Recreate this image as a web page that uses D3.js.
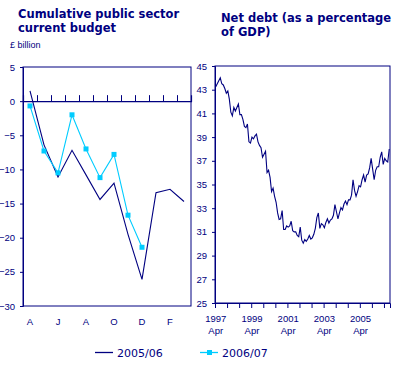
<!DOCTYPE html>
<html><head><meta charset="utf-8">
<script src="https://cdn.jsdelivr.net/npm/d3@7/dist/d3.min.js"></script>
<style>
body{margin:0;background:#fff;}
svg{display:block;}
</style></head>
<body><svg id="c" width="393" height="375"></svg>
<script>
// ---- data ----
const months = ["Apr","May","Jun","Jul","Aug","Sep","Oct","Nov","Dec","Jan","Feb","Mar"];
const monthLabels = ["A","J","A","O","D","F"];
const budget0506 = [1.5, -6.4, -11.1, -7.2, -10.8, -14.4, -12.0, -19.5, -26.1, -13.4, -12.9, -14.7];
const budget0607 = [-0.7, -7.3, -10.5, -2.0, -7.0, -11.2, -7.8, -16.7, -21.4];
const budgetTicks = [5, 0, -5, -10, -15, -20, -25, -30];

// Net debt, monthly Apr 1997 .. Nov 2006
const netDebt = [43.25,43.5,43.75,44.0,43.5,43.4,43.1,42.7,42.9,42.2,41.1,40.8,
  41.5,41.2,41.5,41.8,40.9,40.9,40.5,39.9,39.8,40.1,38.6,38.5,
  39.0,38.85,39.1,39.25,38.6,38.3,38.1,37.3,37.55,37.8,36.0,36.2,
  35.6,34.4,34.7,34.0,33.5,32.6,32.05,32.1,32.8,31.2,31.2,31.5,
  31.4,31.5,31.9,31.1,31.0,31.0,30.7,30.6,31.4,30.3,30.05,30.35,
  30.2,30.4,30.7,30.4,30.5,30.8,31.3,32.2,32.6,31.3,31.7,31.6,
  31.35,31.8,32.1,31.75,32.0,32.1,32.4,33.3,32.7,32.1,32.6,33.05,
  32.85,33.35,33.6,33.3,33.7,33.7,34.1,35.4,34.5,34.0,34.4,34.9,
  34.8,35.4,35.8,35.2,35.8,35.9,36.4,37.2,36.3,35.4,36.2,36.5,
  36.5,37.3,37.75,36.7,37.2,37.0,36.9,38.0];
const debtTicks = [25,27,29,31,33,35,37,39,41,43,45];
const yearLabels = ["1997","1999","2001","2003","2005"];
const yearLabelIdx = [0,24,48,72,96];
const legendNames = ["2005/06","2006/07"];

const NAVY = "#000080", CYAN = "#00ccff";
const svg = d3.select("#c");
const tickFont = "Liberation Sans, Arial, sans-serif";
const titleFont = "DejaVu Sans, Verdana, sans-serif";

// ---- titles ----
function title(x, y, lines){
  const t = svg.append("text").attr("x", x).attr("y", y)
    .attr("font-family", titleFont).attr("font-weight", "bold")
    .attr("font-size", 11.5).attr("fill", NAVY);
  lines.forEach((l,i)=>t.append("tspan").attr("x", x).attr("dy", i? 14 : 0).text(l));
}
title(18, 18, ["Cumulative public sector","current budget"]);
title(221, 22, ["Net debt (as a percentage","of GDP)"]);
svg.append("text").attr("x",10).attr("y",48).attr("font-family",tickFont)
  .attr("font-size",9).attr("fill",NAVY).text("£ billion");

// ---- left chart ----
const L = {l:23, r:191, t:67, b:306};
const xL = d3.scaleBand().domain(d3.range(months.length)).range([L.l, L.r]);
const xLi = d3.scaleLinear().domain([0, months.length]).range([L.l, L.r]);
const yL = d3.scaleLinear().domain([-30, 5]).range([L.b, L.t]);

const gL = svg.append("g");
gL.append("rect").attr("x",L.l).attr("y",L.t).attr("width",L.r-L.l).attr("height",L.b-L.t)
  .attr("fill","none").attr("stroke",NAVY).attr("stroke-width",1);

const yAxL = gL.append("g").attr("transform",`translate(${L.l},0)`)
  .call(d3.axisLeft(yL).tickValues(budgetTicks).tickSize(3).tickPadding(5).tickFormat(d3.format("d")));
const zeroAx = gL.append("g").attr("transform",`translate(0,${yL(0)})`)
  .call(d3.axisTop(xLi).tickValues(d3.range(1, months.length)).tickSize(6).tickFormat(""));
const xLab = gL.append("g").attr("transform",`translate(0,${L.b})`)
  .call(d3.axisBottom(xL).tickValues([0,2,4,6,8,10]).tickSize(0).tickPadding(12)
    .tickFormat((d,i)=>monthLabels[i]));
xLab.select(".domain").remove();
[yAxL, zeroAx, xLab].forEach(g=>{
  g.selectAll("path,line").attr("stroke",NAVY);
  g.selectAll("text").attr("fill",NAVY).attr("font-family",tickFont).attr("font-size",9.5);
});
zeroAx.select(".domain").attr("stroke-width",1.2);

const lineL = d3.line().x((d,i)=>xL(i)+xL.bandwidth()/2).y(d=>yL(d));
gL.append("path").datum(budget0506).attr("d",lineL).attr("fill","none")
  .attr("stroke",NAVY).attr("stroke-width",1.1);
gL.append("path").datum(budget0607).attr("d",lineL).attr("fill","none")
  .attr("stroke",CYAN).attr("stroke-width",1.1);
gL.selectAll("rect.m").data(budget0607).join("rect").attr("class","m")
  .attr("x",(d,i)=>xL(i)+xL.bandwidth()/2-2.5).attr("y",d=>yL(d)-2.5)
  .attr("width",5).attr("height",5).attr("fill",CYAN);

// ---- right chart ----
const R = {l:215, r:390, t:66, b:303};
const xR = d3.scaleBand().domain(d3.range(netDebt.length)).range([R.l, R.r]);
const xRi = d3.scaleLinear().domain([0, netDebt.length]).range([R.l, R.r]);
const yR = d3.scaleLinear().domain([25, 45]).range([R.b, R.t]);
const gR = svg.append("g");
gR.append("rect").attr("x",R.l).attr("y",R.t).attr("width",R.r-R.l).attr("height",R.b-R.t)
  .attr("fill","none").attr("stroke",NAVY).attr("stroke-width",1);
const yAxR = gR.append("g").attr("transform",`translate(${R.l},0)`)
  .call(d3.axisLeft(yR).tickValues(debtTicks).tickSize(3).tickPadding(5));
const xTickR = gR.append("g").attr("transform",`translate(0,${R.b})`)
  .call(d3.axisBottom(xRi).tickValues(d3.range(0, netDebt.length, 8)).tickSize(5).tickFormat(""));
const xLabR = gR.append("g").attr("transform",`translate(0,${R.b})`)
  .call(d3.axisBottom(xR).tickValues(yearLabelIdx).tickSize(0).tickPadding(12)
    .tickFormat((d,i)=>yearLabels[i]));
xLabR.select(".domain").remove();
xLabR.selectAll(".tick").append("text").attr("y",24).attr("dy","0.71em").text("Apr");
[yAxR, xTickR, xLabR].forEach(g=>{
  g.selectAll("path,line").attr("stroke",NAVY);
  g.selectAll("text").attr("fill",NAVY).attr("font-family",tickFont).attr("font-size",9.5)
    .attr("text-anchor", function(){ return d3.select(this.parentNode.parentNode).node()===yAxR.node() ? "end" : "middle"; });
});
xLabR.selectAll(".tick text").attr("text-anchor","middle");
yAxR.selectAll(".tick text").attr("text-anchor","end");

const lineR = d3.line().x((d,i)=>xR(i)+xR.bandwidth()/2).y(d=>yR(d));
gR.append("path").datum(netDebt).attr("d",lineR).attr("fill","none")
  .attr("stroke",NAVY).attr("stroke-width",1.1);

// ---- legend ----
const leg = svg.append("g");
const legX = [95, 200];
legendNames.forEach((n,i)=>{
  const c = i? CYAN : NAVY;
  leg.append("line").attr("x1",legX[i]).attr("x2",legX[i]+18).attr("y1",352.5).attr("y2",352.5)
    .attr("stroke",c).attr("stroke-width",1.3);
  if(i) leg.append("rect").attr("x",legX[i]+7).attr("y",350).attr("width",5).attr("height",5).attr("fill",c);
  leg.append("text").attr("x",legX[i]+22).attr("y",356.5).attr("font-family",titleFont)
    .attr("font-size",11).attr("fill",NAVY).text(n);
});
</script></body></html>
